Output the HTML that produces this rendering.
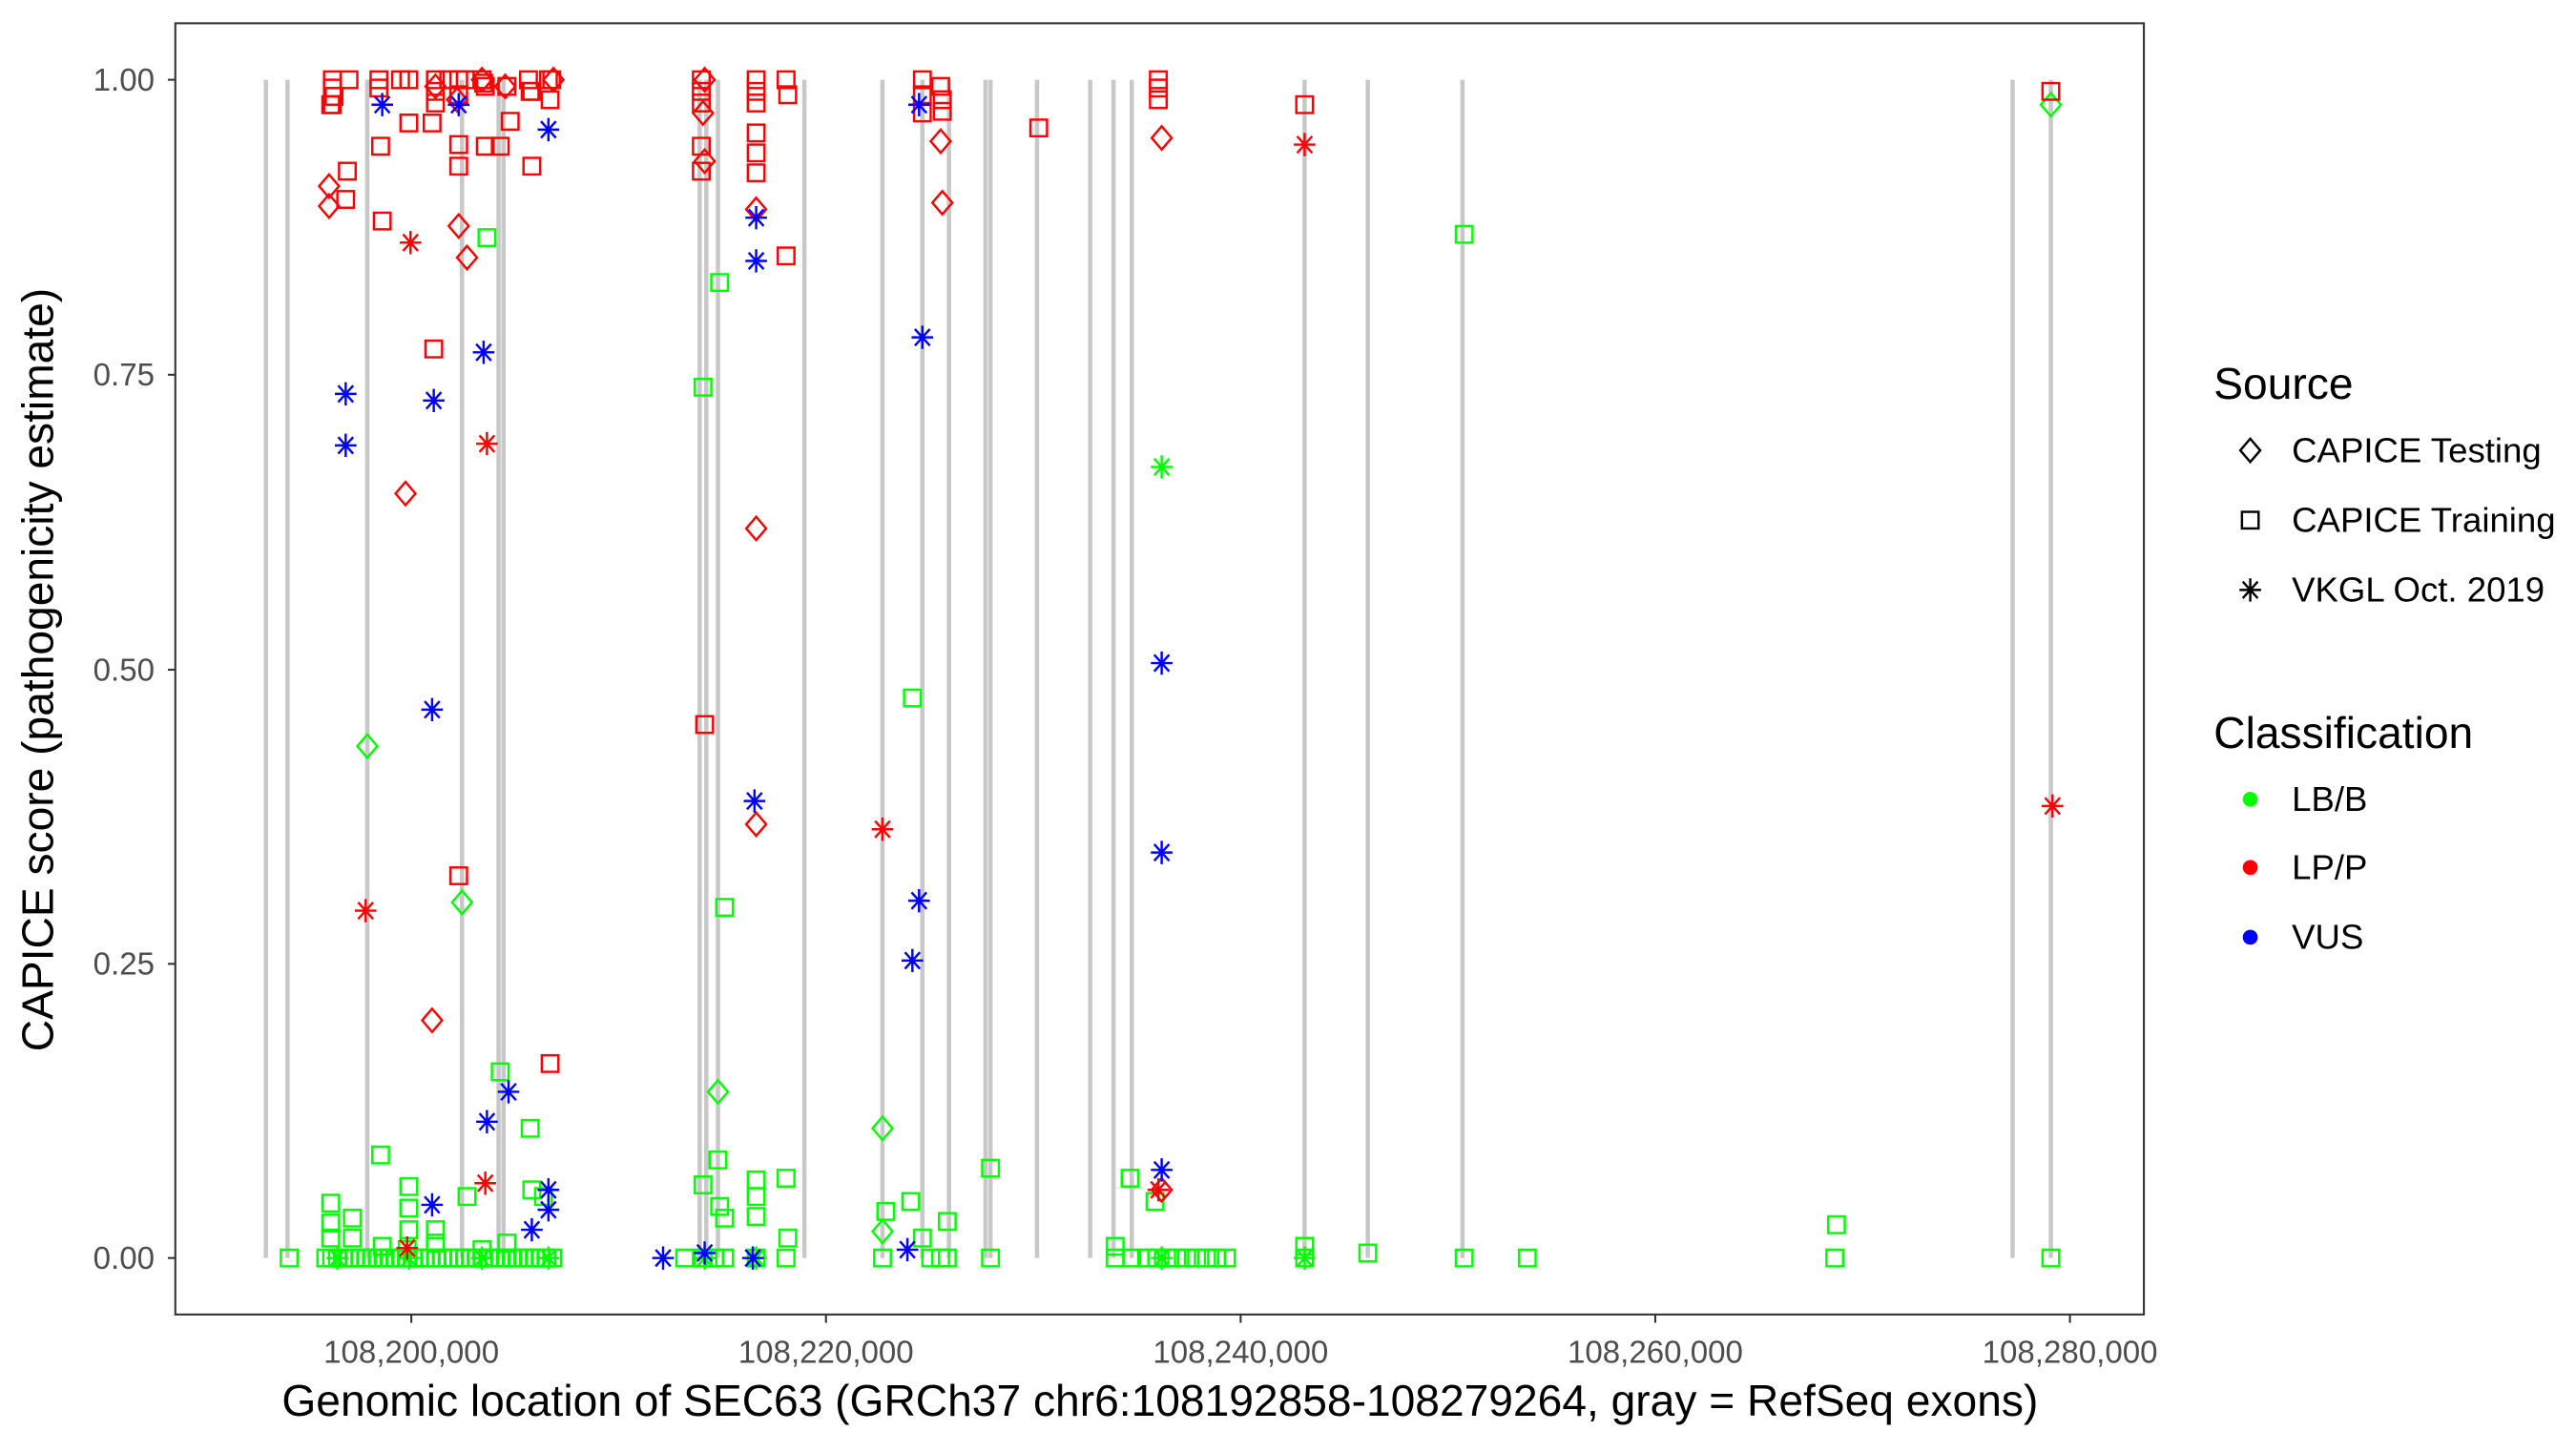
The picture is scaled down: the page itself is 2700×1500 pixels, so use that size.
<!DOCTYPE html>
<html><head><meta charset="utf-8"><style>html,body{margin:0;padding:0;background:#fff}svg{display:block}</style></head>
<body>
<svg id="s" width="2700" height="1500" viewBox="0 0 1550 861.1" preserveAspectRatio="none" xmlns="http://www.w3.org/2000/svg" font-family="Liberation Sans, sans-serif">
<rect x="0" y="0" width="1550" height="861.1" fill="#fff"/>
<g id="exons" stroke="#c8c8c8" stroke-width="2.6"></g>
<g id="pts" fill="none" stroke-width="1.4"></g>
<rect x="105.5" y="14" width="1184.5" height="777" fill="none" stroke="#333" stroke-width="1.2"/>
<g stroke="#333" stroke-width="1.2">
<line x1="101" y1="48" x2="105.5" y2="48"/><line x1="101" y1="225.5" x2="105.5" y2="225.5"/><line x1="101" y1="403" x2="105.5" y2="403"/><line x1="101" y1="580" x2="105.5" y2="580"/><line x1="101" y1="757" x2="105.5" y2="757"/>
<line x1="247.5" y1="791" x2="247.5" y2="796"/><line x1="497" y1="791" x2="497" y2="796"/><line x1="746.5" y1="791" x2="746.5" y2="796"/><line x1="996" y1="791" x2="996" y2="796"/><line x1="1245.5" y1="791" x2="1245.5" y2="796"/>
</g>
<g fill="#4d4d4d" font-size="19" text-anchor="end">
<text x="93" y="54.5">1.00</text><text x="93" y="232">0.75</text><text x="93" y="409.5">0.50</text><text x="93" y="586.5">0.25</text><text x="93" y="763.5">0.00</text>
</g>
<g fill="#4d4d4d" font-size="19" text-anchor="middle">
<text x="247.5" y="820">108,200,000</text><text x="497" y="820">108,220,000</text><text x="746.5" y="820">108,240,000</text><text x="996" y="820">108,260,000</text><text x="1245.5" y="820">108,280,000</text>
</g>
<text x="698" y="852" font-size="26.5" text-anchor="middle" fill="#000">Genomic location of SEC63 (GRCh37 chr6:108192858-108279264, gray = RefSeq exons)</text>
<text transform="translate(32,403) rotate(-90)" font-size="26.5" text-anchor="middle" fill="#000">CAPICE score (pathogenicity estimate)</text>
<text x="1332" y="240" font-size="26.5" fill="#000">Source</text>
<text x="1379" y="278" font-size="21" fill="#000">CAPICE Testing</text>
<text x="1379" y="320" font-size="21" fill="#000">CAPICE Training</text>
<text x="1379" y="362" font-size="21" fill="#000">VKGL Oct. 2019</text>
<text x="1332" y="450" font-size="26.5" fill="#000">Classification</text>
<text x="1379" y="488" font-size="21" fill="#000">LB/B</text>
<text x="1379" y="529" font-size="21" fill="#000">LP/P</text>
<text x="1379" y="571" font-size="21" fill="#000">VUS</text>
<g id="leg" fill="none" stroke-width="1.4"></g>
</svg>
<script>
var NS="http://www.w3.org/2000/svg";
function el(p,t,a){var e=document.createElementNS(NS,t);for(var k in a)e.setAttribute(k,a[k]);p.appendChild(e);return e;}
var ex=document.getElementById('exons');
[160,173,221,278,300,303,421,425,432,484,531,555,571,593,596,624,656,670,681,785,823,880,1211,1234].forEach(function(x){el(ex,'line',{x1:x,y1:48,x2:x,y2:757});});
var P=document.getElementById('pts');
function sq(g,x,y,c){el(g,'rect',{x:x-5,y:y-5,width:10,height:10,stroke:c});}
function di(g,x,y,c){el(g,'path',{d:'M'+x+' '+(y-7)+'L'+(x+6)+' '+y+'L'+x+' '+(y+7)+'L'+(x-6)+' '+y+'Z',stroke:c});}
function as(g,x,y,c){el(g,'path',{d:'M'+(x-6.5)+' '+y+'H'+(x+6.5)+'M'+x+' '+(y-7)+'V'+(y+7)+'M'+(x-4.5)+' '+(y-5)+'L'+(x+4.5)+' '+(y+5)+'M'+(x-4.5)+' '+(y+5)+'L'+(x+4.5)+' '+(y-5),stroke:c});}
var R='#ff0000',G='#00ff00',B='#0000ff';
for(var x=196;x<=335;x+=3.5){sq(P,x,757,G);}
[[174,757],[199,724],[199,736],[199,745],[212,733],[212,745],[229,695],[246,714],[246,727],[246,740],[262,740],[262,748],[281,720],[293,143],[301,645],[319,679],[320,716],[327,720],[423,233],[433,170],[436,546],[423,713],[432,698],[433,726],[436,733],[455,710],[455,720],[455,732],[473,709],[474,745],[533,729],[531,757],[549,420],[548,723],[555,745],[570,735],[596,703],[596,757],[680,709],[671,750],[695,723],[1105,737],[881,141],[881,757],[919,757],[1104,757],[823,754],[785,757],[785,750],[1234,757],[423,757],[430,757],[436,757],[455,757],[473,757],[560,757],[566,757],[570,757],[671,757],[681,757],[412,757],[230,750],[245,752],[290,752],[305,748]].forEach(function(p){sq(P,p[0],p[1],G);});
for(var x=690;x<=742;x+=6){sq(P,x,757,G);}
[[221,449],[278,543],[432,657],[531,679],[531,741],[1234,63]].forEach(function(p){di(P,p[0],p[1],G);});
[[699,281],[699,757],[785,757],[424,757],[455,757],[203,757],[246,757],[290,757],[330,757]].forEach(function(p){as(P,p[0],p[1],G);});
[[200,48],[200,53],[201,58],[200,63],[210,48],[228,48],[228,53],[246,48],[262,48],[262,55],[262,62],[276,48],[276,57],[290,48],[292,52],[318,48],[320,55],[330,48],[331,60],[199,63],[209,103],[229,88],[208,120],[230,133],[246,74],[260,74],[276,87],[276,100],[292,88],[301,88],[307,73],[320,100],[319,55],[332,48],[261,210],[276,527],[331,640],[422,48],[422,55],[422,62],[422,88],[422,103],[455,48],[455,55],[455,62],[455,80],[455,92],[455,104],[473,48],[474,57],[473,154],[424,436],[555,48],[555,57],[555,68],[566,52],[567,60],[567,67],[625,77],[697,48],[697,53],[697,60],[785,63],[1234,55],[291,50],[305,52],[280,48],[270,48],[241,48]].forEach(function(p){sq(P,p[0],p[1],R);});
[[198,112],[198,124],[244,297],[260,614],[276,136],[281,155],[424,97],[424,48],[455,126],[455,318],[455,496],[566,85],[567,122],[699,83],[699,716],[304,52],[333,48],[290,48],[275,60],[262,52],[423,68]].forEach(function(p){di(P,p[0],p[1],R);});
[[247,146],[220,548],[293,267],[292,712],[245,751],[531,499],[785,87],[1235,485],[697,716]].forEach(function(p){as(P,p[0],p[1],R);});
[[230,63],[276,63],[330,78],[208,237],[208,268],[261,241],[291,212],[260,427],[293,675],[306,657],[260,725],[320,740],[330,716],[330,728],[399,757],[424,754],[455,131],[455,157],[454,482],[553,63],[555,203],[553,542],[549,578],[546,752],[699,399],[699,513],[699,704],[453,757]].forEach(function(p){as(P,p[0],p[1],B);});
var L=document.getElementById('leg');
di(L,1354,271,'#000');sq(L,1354,313,'#000');as(L,1354,355,'#000');
el(L,'circle',{cx:1354,cy:481,r:4.5,fill:G,stroke:'none'});
el(L,'circle',{cx:1354,cy:522,r:4.5,fill:R,stroke:'none'});
el(L,'circle',{cx:1354,cy:564,r:4.5,fill:B,stroke:'none'});
</script>
</body></html>
